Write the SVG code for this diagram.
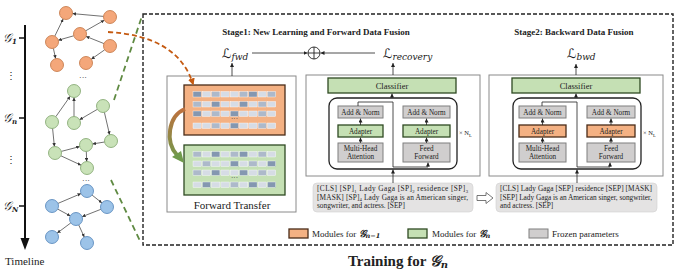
<svg xmlns="http://www.w3.org/2000/svg" width="700" height="271" viewBox="0 0 700 271">
<defs>
<marker id="ah" viewBox="0 0 10 10" refX="10" refY="5" markerWidth="4" markerHeight="4" markerUnits="userSpaceOnUse" orient="auto"><path d="M0,0 L10,5 L0,10 z" fill="#222"/></marker>
<marker id="ahs" viewBox="0 0 10 10" refX="10" refY="5" markerWidth="3.5" markerHeight="3.5" markerUnits="userSpaceOnUse" orient="auto"><path d="M0,0 L10,5 L0,10 z" fill="#333"/></marker>
<marker id="aho" viewBox="0 0 10 10" refX="8" refY="5" markerWidth="7" markerHeight="7" markerUnits="userSpaceOnUse" orient="auto"><path d="M0,0 L10,5 L0,10 z" fill="#c55a11"/></marker>
<linearGradient id="gtr" gradientUnits="userSpaceOnUse" x1="0" y1="108" x2="0" y2="160"><stop offset="0" stop-color="#c0703e"/><stop offset="1" stop-color="#6f9a4c"/></linearGradient>
<style>
text{font-family:"Liberation Serif","Times New Roman",serif;fill:#222}
.on{fill:#f4a77a;stroke:#c27240;stroke-width:0.8}
.gn{fill:#c9e2b8;stroke:#7ea36a;stroke-width:0.8}
.bn{fill:#9cc3e8;stroke:#4f82b8;stroke-width:0.8}
.e{stroke:#333;stroke-width:0.7;fill:none;marker-end:url(#ahs)}
.box{fill:#fff;stroke:#8a8a8a;stroke-width:1}
.grn{fill:#c5e0b4;stroke:#2f4a22;stroke-width:1.3}
.org{fill:#f4b183;stroke:#4a2c18;stroke-width:1.3}
.gry{fill:#d0cece;stroke:#7f7f7f;stroke-width:1}
.txtbox{fill:#e4e3e3;stroke:#d0d0d0;stroke-width:0.6}
.ln{stroke:#222;stroke-width:0.8;fill:none}
.arr{stroke:#222;stroke-width:0.8;fill:none;marker-end:url(#ah)}
.m{font-size:7.2px;text-anchor:middle}
.t{font-size:7.3px}
.D{fill:#8497b0;stroke:#fff;stroke-width:0.4}
.M{fill:#adb9ca;stroke:#fff;stroke-width:0.4}
.L{fill:#d6dce5;stroke:#fff;stroke-width:0.4}
.cal{font-family:"DejaVu Serif","DejaVu Sans",serif;font-style:italic}
</style>
</defs>

<!-- Timeline -->
<g id="timeline">
<line x1="25" y1="25" x2="25" y2="240" stroke="#111" stroke-width="2"/>
<polygon points="20.5,238 29.5,238 25,250" fill="#111"/>
<line x1="19" y1="38" x2="25" y2="38" stroke="#111" stroke-width="1.5"/>
<line x1="19" y1="118" x2="25" y2="118" stroke="#111" stroke-width="1.5"/>
<line x1="19" y1="206" x2="25" y2="206" stroke="#111" stroke-width="1.5"/>
<text x="3" y="42" font-size="12" class="cal">𝒢<tspan font-size="7" dy="2" font-weight="bold">1</tspan></text>
<text x="3" y="122" font-size="12" class="cal">𝒢<tspan font-size="7" dy="2" font-weight="bold">n</tspan></text>
<text x="3" y="210" font-size="12" class="cal">𝒢<tspan font-size="7" dy="2" font-weight="bold">N</tspan></text>
<text x="11" y="79" font-size="10" text-anchor="middle">⋮</text>
<text x="11" y="163" font-size="10" text-anchor="middle">⋮</text>
<text x="5" y="265" font-size="11">Timeline</text>
</g>

<!-- Graphs -->
<g id="graph1">
<g class="e">
<line x1="103.5" y1="16.4" x2="72.5" y2="13.6"/>
<line x1="54.8" y1="36.1" x2="63.2" y2="18.9"/>
<line x1="73.7" y1="35.8" x2="58.3" y2="40.2"/>
<line x1="85.7" y1="30.8" x2="104.3" y2="20.2"/>
<line x1="104" y1="43.6" x2="86" y2="36.4"/>
<line x1="53.4" y1="48.4" x2="55.6" y2="58.6"/>
<line x1="104.7" y1="49.8" x2="91.3" y2="59.2"/>
</g>
<circle class="on" cx="66" cy="13" r="6.5"/><circle class="on" cx="110" cy="17" r="6.5"/><circle class="on" cx="80" cy="34" r="6.5"/><circle class="on" cx="52" cy="42" r="6.5"/><circle class="on" cx="110" cy="46" r="6.5"/><circle class="on" cx="57" cy="65" r="6.5"/><circle class="on" cx="86" cy="63" r="6.5"/>
<text x="83" y="80" font-size="8" text-anchor="middle">···</text>
</g>
<g id="graph2">
<g class="e">
<line x1="55.8" y1="116.7" x2="70.2" y2="96.3"/>
<line x1="74" y1="116.5" x2="74" y2="97.5"/>
<line x1="97.4" y1="109.3" x2="79.6" y2="119.7"/>
<line x1="104.4" y1="112.3" x2="109.6" y2="134.7"/>
<line x1="52.6" y1="128.5" x2="54.4" y2="146.5"/>
<line x1="61.3" y1="151.4" x2="79.7" y2="146.6"/>
<line x1="104.6" y1="142" x2="92.4" y2="144"/>
<line x1="60.9" y1="155.8" x2="81.1" y2="165.2"/>
<line x1="86.3" y1="151.5" x2="86.7" y2="161.5"/>
</g>
<circle class="gn" cx="74" cy="91" r="6.5"/><circle class="gn" cx="103" cy="106" r="6.5"/><circle class="gn" cx="52" cy="122" r="6.5"/><circle class="gn" cx="74" cy="123" r="6.5"/><circle class="gn" cx="111" cy="141" r="6.5"/><circle class="gn" cx="55" cy="153" r="6.5"/><circle class="gn" cx="86" cy="145" r="6.5"/><circle class="gn" cx="87" cy="168" r="6.5"/>
<text x="86" y="183" font-size="8" text-anchor="middle">···</text>
</g>
<g id="graph3">
<g class="e">
<line x1="58" y1="203.4" x2="81" y2="193.6"/>
<line x1="92.1" y1="195.1" x2="101.9" y2="202.9"/>
<line x1="100.9" y1="209.3" x2="82.1" y2="216.7"/>
<line x1="57.7" y1="209.1" x2="70.3" y2="215.9"/>
<line x1="70.8" y1="222.9" x2="57.2" y2="233.1"/>
<line x1="78.7" y1="224.9" x2="84.3" y2="237.1"/>
</g>
<circle class="bn" cx="87" cy="191" r="6.5"/><circle class="bn" cx="52" cy="206" r="6.5"/><circle class="bn" cx="107" cy="207" r="6.5"/><circle class="bn" cx="76" cy="219" r="6.5"/><circle class="bn" cx="52" cy="237" r="6.5"/><circle class="bn" cx="87" cy="243" r="6.5"/>
</g>

<!-- Training frame -->
<g id="frame">
<rect x="143" y="14" width="530" height="231" fill="none" stroke="#222" stroke-width="1.4" stroke-dasharray="4,2"/>
<text x="398" y="266" font-size="15" font-weight="bold" text-anchor="middle">Training for <tspan class="cal" font-weight="bold">𝒢</tspan><tspan class="cal" font-size="10" dy="2" font-weight="bold">n</tspan></text>
<text x="316" y="35" font-size="9" font-weight="bold" text-anchor="middle">Stage1: New Learning and Forward Data Fusion</text>
<text x="574" y="35" font-size="9" font-weight="bold" text-anchor="middle">Stage2: Backward Data Fusion</text>
</g>

<!-- Losses -->
<g id="losses">
<text x="222" y="58" font-size="13" class="cal">ℒ<tspan font-size="9" dy="2">fwd</tspan></text>
<text x="383" y="58" font-size="13" class="cal">ℒ<tspan font-size="9" dy="2">recovery</tspan></text>
<text x="567" y="58" font-size="13" class="cal">ℒ<tspan font-size="9" dy="2">bwd</tspan></text>
<circle cx="314" cy="53" r="6" fill="#fff" stroke="#222" stroke-width="0.9"/>
<path d="M308,53 H320 M314,47 V59" stroke="#222" stroke-width="0.9"/>
</g>

<!-- Forward transfer -->
<g id="forward-transfer">
<rect class="box" x="167" y="76" width="129" height="136"/>
<rect class="org" x="184" y="85" width="101" height="50"/>
<rect class="grn" x="184" y="145" width="101" height="50"/>
<g transform="translate(193,91.5)">
<rect class="D" x="0" y="0" width="8.3" height="5.5"/><rect class="L" x="9.3" y="0" width="8.3" height="5.5"/><rect class="M" x="18.6" y="0" width="8.3" height="5.5"/><rect class="L" x="27.9" y="0" width="8.3" height="5.5"/><rect class="L" x="37.2" y="0" width="8.3" height="5.5"/><rect class="M" x="46.5" y="0" width="8.3" height="5.5"/><rect class="D" x="55.8" y="0" width="8.3" height="5.5"/><rect class="L" x="65.1" y="0" width="8.3" height="5.5"/><rect class="M" x="74.4" y="0" width="8.3" height="5.5"/>
</g>
<g transform="translate(193,101.5)">
<rect class="M" x="0" y="0" width="8.3" height="5.5"/><rect class="L" x="9.3" y="0" width="8.3" height="5.5"/><rect class="D" x="18.6" y="0" width="8.3" height="5.5"/><rect class="L" x="27.9" y="0" width="8.3" height="5.5"/><rect class="L" x="37.2" y="0" width="8.3" height="5.5"/><rect class="D" x="46.5" y="0" width="8.3" height="5.5"/><rect class="L" x="55.8" y="0" width="8.3" height="5.5"/><rect class="M" x="65.1" y="0" width="8.3" height="5.5"/><rect class="L" x="74.4" y="0" width="8.3" height="5.5"/>
</g>
<g transform="translate(193,111)">
<rect class="D" x="0" y="0" width="8.3" height="5.5"/><rect class="L" x="9.3" y="0" width="8.3" height="5.5"/><rect class="M" x="18.6" y="0" width="8.3" height="5.5"/><rect class="L" x="27.9" y="0" width="8.3" height="5.5"/><rect class="D" x="37.2" y="0" width="8.3" height="5.5"/><rect class="L" x="46.5" y="0" width="8.3" height="5.5"/><rect class="L" x="55.8" y="0" width="8.3" height="5.5"/><rect class="M" x="65.1" y="0" width="8.3" height="5.5"/><rect class="L" x="74.4" y="0" width="8.3" height="5.5"/>
</g>
<text x="234.5" y="121" font-size="7" text-anchor="middle">···</text>
<g transform="translate(193,123)">
<rect class="L" x="0" y="0" width="8.3" height="5.5"/><rect class="L" x="9.3" y="0" width="8.3" height="5.5"/><rect class="M" x="18.6" y="0" width="8.3" height="5.5"/><rect class="L" x="27.9" y="0" width="8.3" height="5.5"/><rect class="D" x="37.2" y="0" width="8.3" height="5.5"/><rect class="L" x="46.5" y="0" width="8.3" height="5.5"/><rect class="L" x="55.8" y="0" width="8.3" height="5.5"/><rect class="M" x="65.1" y="0" width="8.3" height="5.5"/><rect class="L" x="74.4" y="0" width="8.3" height="5.5"/>
</g>
<g transform="translate(193,151.5)">
<rect class="M" x="0" y="0" width="8.3" height="5.5"/><rect class="L" x="9.3" y="0" width="8.3" height="5.5"/><rect class="D" x="18.6" y="0" width="8.3" height="5.5"/><rect class="L" x="27.9" y="0" width="8.3" height="5.5"/><rect class="M" x="37.2" y="0" width="8.3" height="5.5"/><rect class="D" x="46.5" y="0" width="8.3" height="5.5"/><rect class="L" x="55.8" y="0" width="8.3" height="5.5"/><rect class="M" x="65.1" y="0" width="8.3" height="5.5"/><rect class="L" x="74.4" y="0" width="8.3" height="5.5"/>
</g>
<g transform="translate(193,161)">
<rect class="L" x="0" y="0" width="8.3" height="5.5"/><rect class="M" x="9.3" y="0" width="8.3" height="5.5"/><rect class="L" x="18.6" y="0" width="8.3" height="5.5"/><rect class="L" x="27.9" y="0" width="8.3" height="5.5"/><rect class="D" x="37.2" y="0" width="8.3" height="5.5"/><rect class="L" x="46.5" y="0" width="8.3" height="5.5"/><rect class="M" x="55.8" y="0" width="8.3" height="5.5"/><rect class="L" x="65.1" y="0" width="8.3" height="5.5"/><rect class="D" x="74.4" y="0" width="8.3" height="5.5"/>
</g>
<g transform="translate(193,170)">
<rect class="M" x="0" y="0" width="8.3" height="5.5"/><rect class="L" x="9.3" y="0" width="8.3" height="5.5"/><rect class="D" x="18.6" y="0" width="8.3" height="5.5"/><rect class="L" x="27.9" y="0" width="8.3" height="5.5"/><rect class="L" x="37.2" y="0" width="8.3" height="5.5"/><rect class="D" x="46.5" y="0" width="8.3" height="5.5"/><rect class="L" x="55.8" y="0" width="8.3" height="5.5"/><rect class="M" x="65.1" y="0" width="8.3" height="5.5"/><rect class="L" x="74.4" y="0" width="8.3" height="5.5"/>
</g>
<text x="234.5" y="180" font-size="7" text-anchor="middle">···</text>
<g transform="translate(193,182)">
<rect class="L" x="0" y="0" width="8.3" height="5.5"/><rect class="D" x="9.3" y="0" width="8.3" height="5.5"/><rect class="L" x="18.6" y="0" width="8.3" height="5.5"/><rect class="L" x="27.9" y="0" width="8.3" height="5.5"/><rect class="M" x="37.2" y="0" width="8.3" height="5.5"/><rect class="L" x="46.5" y="0" width="8.3" height="5.5"/><rect class="D" x="55.8" y="0" width="8.3" height="5.5"/><rect class="L" x="65.1" y="0" width="8.3" height="5.5"/><rect class="D" x="74.4" y="0" width="8.3" height="5.5"/>
</g>
<text x="232" y="209" font-size="11" text-anchor="middle">Forward Transfer</text>
</g>

<!-- Stage1 transformer -->
<g id="stage1-model">
<rect class="box" x="306" y="75" width="174" height="101"/>
<rect class="grn" x="328" y="78" width="128" height="15"/>
<text x="392" y="88.5" font-size="8.5" text-anchor="middle">Classifier</text>
<rect x="329" y="98" width="128" height="71" rx="8" fill="none" stroke="#222" stroke-width="1.3"/>
<rect class="gry" x="338" y="106" width="45" height="12"/><text class="m" x="360.5" y="114.7">Add &amp; Norm</text>
<rect class="grn" x="338" y="125" width="45" height="12"/><text class="m" x="360.5" y="133.7">Adapter</text>
<rect class="gry" x="338" y="143" width="45" height="19"/><text class="m" x="360.5" y="151.2">Multi-Head</text><text class="m" x="360.5" y="159.4">Attention</text>
<rect class="gry" x="403" y="106" width="47" height="12"/><text class="m" x="426.5" y="114.7">Add &amp; Norm</text>
<rect class="grn" x="403" y="125" width="47" height="12"/><text class="m" x="426.5" y="133.7">Adapter</text>
<rect class="gry" x="403" y="143" width="47" height="19"/><text class="m" x="426.5" y="151.2">Feed</text><text class="m" x="426.5" y="159.4">Forward</text>
<text x="459" y="135" font-size="6.5">× N<tspan font-size="4.5" dy="1.5">L</tspan></text>
</g>
<g id="stage1-input">
<rect class="txtbox" x="313" y="183" width="160" height="29" rx="4"/>
<text class="t" x="317" y="191" textLength="151" lengthAdjust="spacing">[CLS] [SP]<tspan font-size="4.7" dy="1.5">1</tspan><tspan dy="-1.5"> Lady Gaga [SP]</tspan><tspan font-size="4.7" dy="1.5">2</tspan><tspan dy="-1.5"> residence [SP]</tspan><tspan font-size="4.7" dy="1.5">3</tspan></text>
<text class="t" x="317" y="199.5" textLength="151" lengthAdjust="spacing">[MASK] [SP]<tspan font-size="4.7" dy="1.5">4</tspan><tspan dy="-1.5"> Lady Gaga is an American singer,</tspan></text>
<text class="t" x="317" y="208">songwriter, and actress. [SEP]</text>
</g>
<g id="hollow-arrow">
<polygon points="477,195.5 486,195.5 486,192.5 493,198 486,203.5 486,200.5 477,200.5" fill="#fff" stroke="#555" stroke-width="0.8"/>
</g>

<!-- Stage2 transformer -->
<g id="stage2-model">
<rect class="box" x="489" y="75" width="174" height="101"/>
<rect class="grn" x="512" y="78" width="128" height="15"/>
<text x="576" y="88.5" font-size="8.5" text-anchor="middle">Classifier</text>
<rect x="513" y="98" width="128" height="71" rx="8" fill="none" stroke="#222" stroke-width="1.3"/>
<rect class="gry" x="519" y="106" width="47" height="12"/><text class="m" x="542.5" y="114.7">Add &amp; Norm</text>
<rect class="org" x="519" y="125" width="47" height="12"/><text class="m" x="542.5" y="133.7">Adapter</text>
<rect class="gry" x="519" y="143" width="47" height="19"/><text class="m" x="542.5" y="151.2">Multi-Head</text><text class="m" x="542.5" y="159.4">Attention</text>
<rect class="gry" x="587" y="106" width="48" height="12"/><text class="m" x="611" y="114.7">Add &amp; Norm</text>
<rect class="org" x="587" y="125" width="48" height="12"/><text class="m" x="611" y="133.7">Adapter</text>
<rect class="gry" x="587" y="143" width="48" height="19"/><text class="m" x="611" y="151.2">Feed</text><text class="m" x="611" y="159.4">Forward</text>
<text x="643" y="135" font-size="6.5">× N<tspan font-size="4.5" dy="1.5">L</tspan></text>
</g>
<g id="stage2-input">
<rect class="txtbox" x="496" y="183" width="161" height="29" rx="4"/>
<text class="t" x="500" y="191" textLength="152" lengthAdjust="spacing">[CLS] Lady Gaga [SEP] residence [SEP] [MASK]</text>
<text class="t" x="500" y="199.5" textLength="152" lengthAdjust="spacing">[SEP] Lady Gaga is an American singer, songwriter,</text>
<text class="t" x="500" y="208">and actress. [SEP]</text>
</g>

<!-- Legend -->
<g id="legend">
<rect class="org" x="289" y="229" width="19" height="9" stroke-width="0.8"/>
<text x="312" y="236.5" font-size="9">Modules for <tspan class="cal" font-weight="bold" font-size="10">𝒢</tspan><tspan class="cal" font-weight="bold" font-size="6.5" dy="1.5">n−1</tspan></text>
<rect class="grn" x="408" y="229" width="19" height="9" stroke-width="0.8" stroke="#7ea36a"/>
<text x="432" y="236.5" font-size="9">Modules for <tspan class="cal" font-weight="bold" font-size="10">𝒢</tspan><tspan class="cal" font-weight="bold" font-size="6.5" dy="1.5">n</tspan></text>
<rect class="gry" x="529" y="229" width="19" height="9"/>
<text x="552" y="236.5" font-size="9">Frozen parameters</text>
</g>

<!-- Connectors -->
<g id="connectors">
<path d="M108,32 Q178,36 193,84" fill="none" stroke="#c55a11" stroke-width="1.8" stroke-dasharray="5,3" marker-end="url(#aho)"/>
<path d="M114,100 L142,16" stroke="#5f8a42" stroke-width="1.8" stroke-dasharray="6,4"/>
<path d="M111,180 L141,243" stroke="#5f8a42" stroke-width="1.8" stroke-dasharray="6,4"/>
<path d="M185,109 C168,116 165,142 177,155" fill="none" stroke="url(#gtr)" stroke-width="4"/>
<polygon points="172,157 181,151 184,163" fill="#6f9a4c"/>
<line class="arr" x1="252" y1="53" x2="307.5" y2="53"/>
<line class="arr" x1="375" y1="53" x2="320.5" y2="53"/>
<line class="arr" x1="232" y1="76" x2="232" y2="63"/>
<line class="arr" x1="393" y1="75" x2="393" y2="63"/>
<line class="arr" x1="576" y1="75" x2="576" y2="64"/>
<line class="arr" x1="392" y1="98" x2="392" y2="93.5"/>
<line class="arr" x1="576" y1="98" x2="576" y2="93.5"/>
<line class="arr" x1="360.5" y1="125" x2="360.5" y2="118.5"/>
<line class="arr" x1="360.5" y1="143" x2="360.5" y2="137.5"/>
<line class="arr" x1="426.5" y1="125" x2="426.5" y2="118.5"/>
<line class="arr" x1="426.5" y1="143" x2="426.5" y2="137.5"/>
<path class="ln" d="M358,106 V102 H393 V167 H428"/>
<line class="arr" x1="428" y1="167" x2="428" y2="162.5"/>
<line class="arr" x1="393" y1="183" x2="393" y2="169.5"/>
<line class="arr" x1="542.5" y1="125" x2="542.5" y2="118.5"/>
<line class="arr" x1="542.5" y1="143" x2="542.5" y2="137.5"/>
<line class="arr" x1="611" y1="125" x2="611" y2="118.5"/>
<line class="arr" x1="611" y1="143" x2="611" y2="137.5"/>
<path class="ln" d="M542,106 V102 H577 V167 H610"/>
<line class="arr" x1="610" y1="167" x2="610" y2="162.5"/>
<line class="arr" x1="577" y1="183" x2="577" y2="169.5"/>
</g>
</svg>
